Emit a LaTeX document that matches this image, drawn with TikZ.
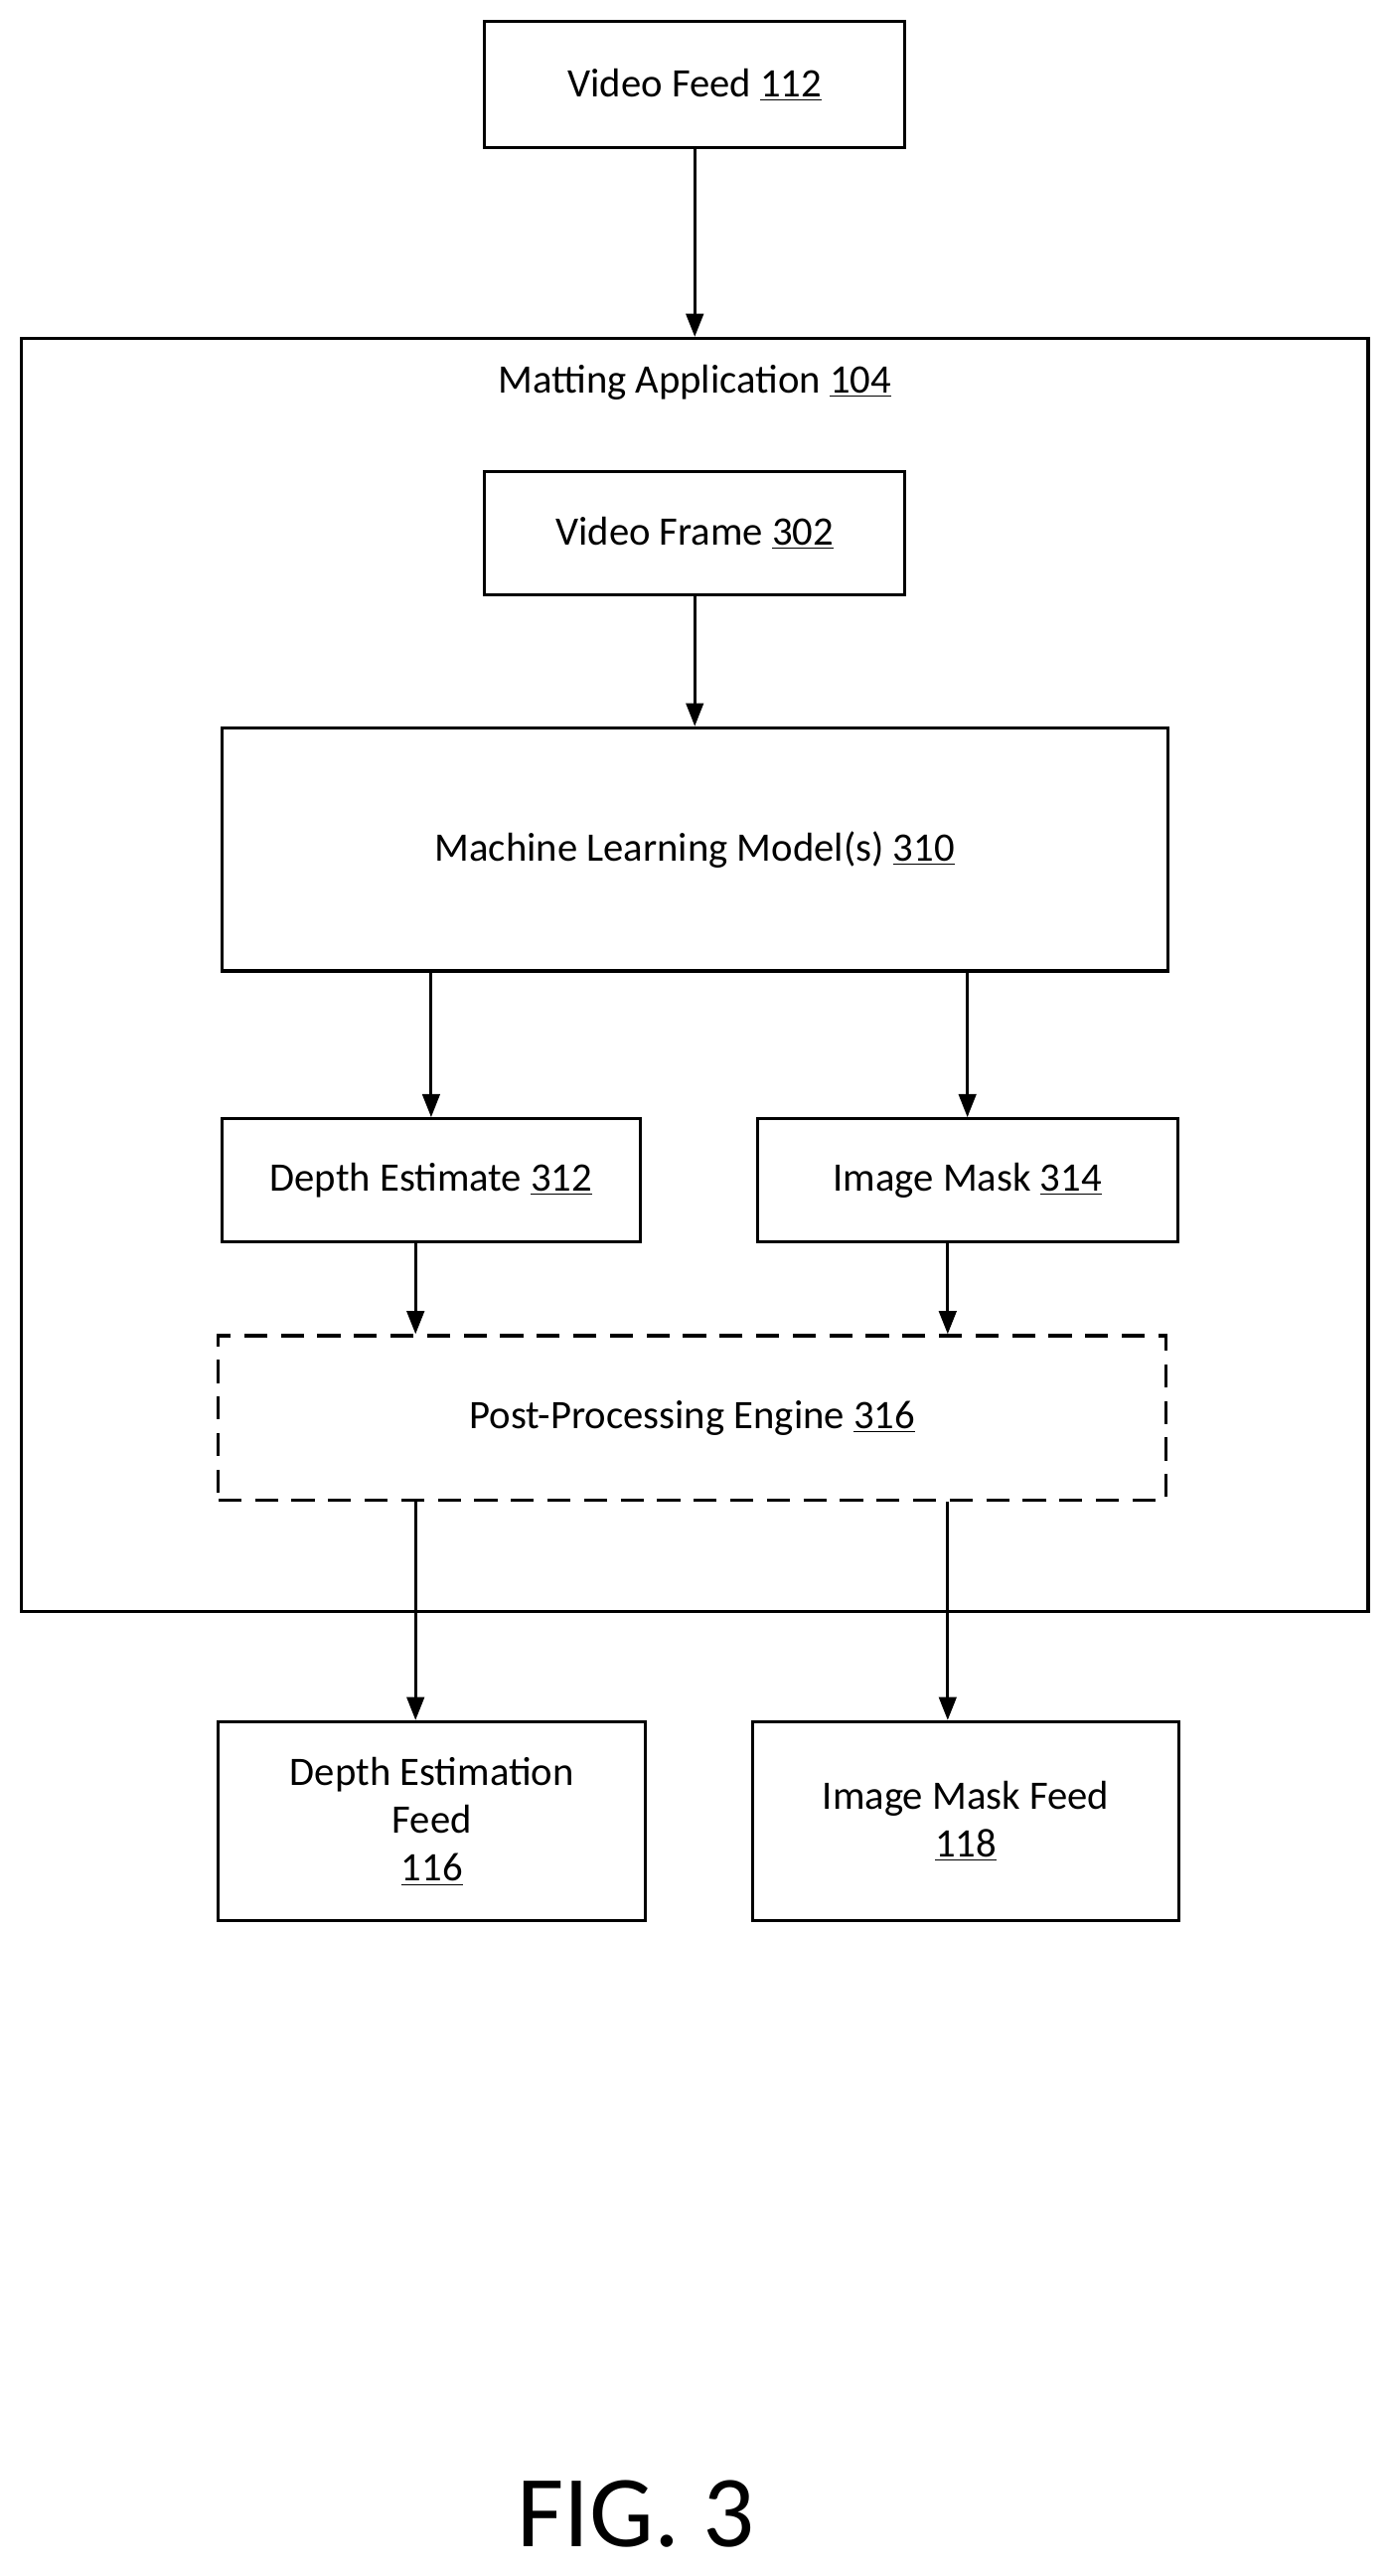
\documentclass[tikz,border=0pt]{standalone}
\usepackage{fontspec}
\setmainfont{Carlito}
\usetikzlibrary{arrows.meta}
\begin{document}
\begin{tikzpicture}[x=0.03cm,y=-0.03cm,
  box/.style={draw,line width=1.6pt,align=center,font=\fontsize{21}{25}\selectfont,inner sep=0pt},
  arr/.style={line width=1.6pt,-{Triangle[length=12pt,width=9pt]}}]
\useasboundingbox (0,0) rectangle (848,1568);
\node[box,minimum width=7.68cm,minimum height=2.31cm] (vf) at (423,51.5) {Video Feed \underline{112}};
\node[box,minimum width=24.6cm,minimum height=23.25cm] (ma) at (423,593.5) {};
\node[font=\fontsize{21}{25}\selectfont,anchor=center] (mal) at (423,233) {Matting Application \underline{104}};
\node[box,minimum width=7.68cm,minimum height=2.25cm] (fr) at (423,324.5) {Video Frame \underline{302}};
\node[box,minimum width=17.28cm,minimum height=4.44cm] (ml) at (423,517) {Machine Learning Model(s) \underline{310}};
\node[box,minimum width=7.65cm,minimum height=2.25cm] (dep) at (262.5,718.5) {Depth Estimate \underline{312}};
\node[box,minimum width=7.68cm,minimum height=2.25cm] (im) at (589,718.5) {Image Mask \underline{314}};
\node[box,dashed,dash pattern=on 12pt off 7pt,minimum width=17.31cm,minimum height=3.0cm] (pp) at (421.5,863) {Post-Processing Engine \underline{316}};
\node[box,minimum width=7.8cm,minimum height=3.63cm] (def) at (263,1108.5) {Depth Estimation\\Feed\\\underline{116}};
\node[box,minimum width=7.8cm,minimum height=3.63cm] (imf) at (588,1108.5) {Image Mask Feed\\\underline{118}};
\node[font=\fontsize{53}{60}\selectfont] (fig) at (387,1530) {FIG. 3};
\coordinate (a1) at (253,0);
\coordinate (a2) at (577,0);
\draw[arr] (vf.south) -- (ma.north);
\draw[arr] (fr.south) -- (ml.north);
\draw[arr] (ml.south -| dep.north) -- (dep.north);
\draw[arr] (ml.south -| im.north) -- (im.north);
\draw[arr] (dep.south -| a1) -- (pp.north -| a1);
\draw[arr] (im.south -| a2) -- (pp.north -| a2);
\draw[arr] (pp.south -| a1) -- (def.north -| a1);
\draw[arr] (pp.south -| a2) -- (imf.north -| a2);
\end{tikzpicture}
\end{document}
